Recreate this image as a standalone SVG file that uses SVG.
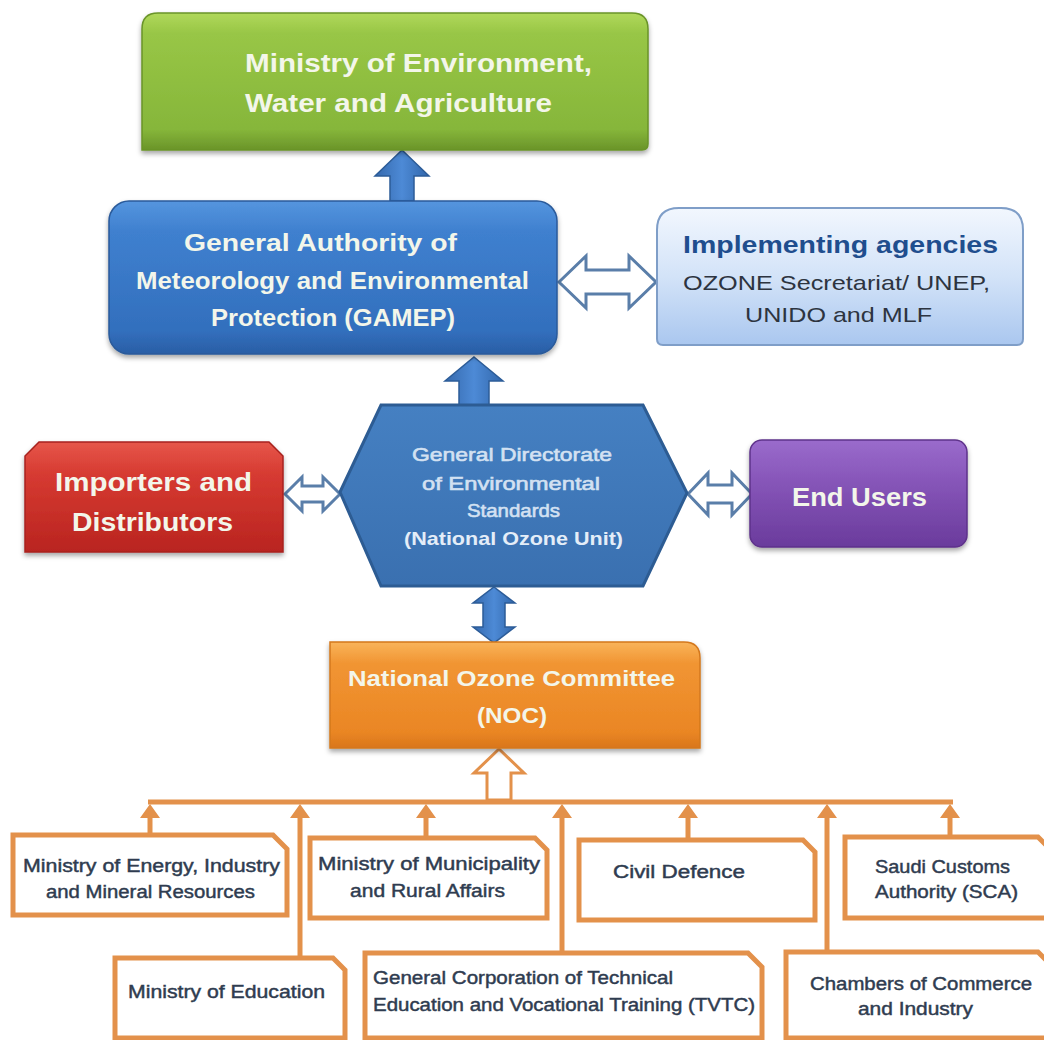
<svg xmlns="http://www.w3.org/2000/svg" width="1044" height="1040" viewBox="0 0 1044 1040">
<defs>
<linearGradient id="gGreen" x1="0" y1="0" x2="0" y2="1"><stop offset="0" stop-color="#b0d85a"/><stop offset="0.15" stop-color="#98c646"/><stop offset="0.85" stop-color="#86b63a"/><stop offset="1" stop-color="#6a9429"/></linearGradient>
<linearGradient id="gBlue" x1="0" y1="0" x2="0" y2="1"><stop offset="0" stop-color="#5595de"/><stop offset="0.2" stop-color="#3f80cf"/><stop offset="0.85" stop-color="#326fbd"/><stop offset="1" stop-color="#2a5ea5"/></linearGradient>
<linearGradient id="gLight" x1="0" y1="0" x2="0" y2="1"><stop offset="0" stop-color="#f2f7fe"/><stop offset="0.5" stop-color="#d3e3f8"/><stop offset="1" stop-color="#aac7ef"/></linearGradient>
<linearGradient id="gHex" x1="0" y1="0" x2="0" y2="1"><stop offset="0" stop-color="#4580c2"/><stop offset="1" stop-color="#3a70b0"/></linearGradient>
<linearGradient id="gRed" x1="0" y1="0" x2="0" y2="1"><stop offset="0" stop-color="#e6564a"/><stop offset="0.3" stop-color="#d63a31"/><stop offset="1" stop-color="#b92420"/></linearGradient>
<linearGradient id="gPurple" x1="0" y1="0" x2="0" y2="1"><stop offset="0" stop-color="#9a6bcc"/><stop offset="0.4" stop-color="#8655b8"/><stop offset="1" stop-color="#6a3b9c"/></linearGradient>
<linearGradient id="gOrange" x1="0" y1="0" x2="0" y2="1"><stop offset="0" stop-color="#f9b45a"/><stop offset="0.2" stop-color="#f19533"/><stop offset="0.85" stop-color="#ea8624"/><stop offset="1" stop-color="#d9761a"/></linearGradient>
<linearGradient id="gArrow" x1="0" y1="0" x2="1" y2="0"><stop offset="0" stop-color="#3569ad"/><stop offset="0.5" stop-color="#4d8ad6"/><stop offset="1" stop-color="#3267ab"/></linearGradient>
<filter id="sh" x="-10%" y="-10%" width="120%" height="130%"><feDropShadow dx="0" dy="3" stdDeviation="2.5" flood-color="#000" flood-opacity="0.35"/></filter>
</defs>
<style>
text{font-family:"Liberation Sans",Arial,sans-serif;}
.wb{font-weight:bold;fill:#f3f6ea;}
.bx{fill:#ffffff;stroke:#e3914b;stroke-width:5;}
.ln{stroke:#e3914b;stroke-width:5;fill:none;}
.ah{fill:#e3914b;}
.bt{font-size:18px;fill:#2f3c50;stroke:#2f3c50;stroke-width:0.45;}
.hx{font-size:19px;fill:#d3e1f2;stroke:#d3e1f2;stroke-width:0.6;}
.hol{fill:#ffffff;stroke:#5a7ea9;stroke-width:3;stroke-linejoin:miter;}
.ba{fill:url(#gArrow);stroke:#2c5c98;stroke-width:1.5;}
</style>
<rect width="1044" height="1040" fill="#ffffff"/>

<g id="connectors">
<path class="ba" d="M402 150 L429 176 L414 176 L414 201 L390 201 L390 176 L375 176 Z"/>
<path class="ba" d="M474 357 L503 381 L489 381 L489 405 L459 405 L459 381 L445 381 Z"/>
<path class="ba" d="M494 587 L515 603 L505 603 L505 627 L515 627 L494 643 L473 627 L483 627 L483 603 L473 603 Z"/>
<path class="hol" d="M559 282 L586 256 L586 270 L629 270 L629 256 L656 282 L629 308 L629 294 L586 294 L586 308 Z"/>
<path class="hol" d="M285 494 L302 477 L302 486 L323 486 L323 477 L340 494 L323 511 L323 502 L302 502 L302 511 Z"/>
<path class="hol" d="M688 494 L708 473 L708 485 L732 485 L732 473 L752 494 L732 515 L732 503 L708 503 L708 515 Z"/>
<path d="M499 749 L524 773 L511 773 L511 800 L487 800 L487 773 L474 773 Z" fill="#ffffff" stroke="#e3914b" stroke-width="3"/>
<path class="ln" d="M148 802 H953"/>
<path class="ln" d="M150 812 V835 M426 812 V838 M688 812 V840 M950 812 V837 M300 812 V958 M562 812 V953 M827 812 V952"/>
<path class="ah" d="M150 804 L160 818 L140 818 Z M426 804 L436 818 L416 818 Z M688 804 L698 818 L678 818 Z M950 804 L960 818 L940 818 Z M300 804 L310 818 L290 818 Z M562 804 L572 818 L552 818 Z M827 804 L837 818 L817 818 Z"/>
</g>

<g id="ministry-environment">
<path d="M158 13 H632 Q648 13 648 29 V144 Q648 150 642 150 H142 V29 Q142 13 158 13 Z" fill="url(#gGreen)" stroke="#6a9429" stroke-width="1.5" filter="url(#sh)"/>
<text class="wb" x="245" y="72" font-size="26" textLength="347" lengthAdjust="spacingAndGlyphs">Ministry of Environment,</text>
<text class="wb" x="245" y="112" font-size="26" textLength="307" lengthAdjust="spacingAndGlyphs">Water and Agriculture</text>
</g>

<g id="gamep">
<rect x="109" y="201" width="448" height="153" rx="20" fill="url(#gBlue)" stroke="#2a5a9a" stroke-width="1.5" filter="url(#sh)"/>
<text class="wb" x="184" y="251" font-size="23" fill="#eef3fb" textLength="273" lengthAdjust="spacingAndGlyphs">General Authority of</text>
<text class="wb" x="136" y="289" font-size="23" textLength="393" lengthAdjust="spacingAndGlyphs">Meteorology and Environmental</text>
<text class="wb" x="211" y="326" font-size="23" textLength="244" lengthAdjust="spacingAndGlyphs">Protection (GAMEP)</text>
</g>

<g id="implementing-agencies">
<path d="M679 208 H1001 Q1023 208 1023 230 V339 Q1023 345 1017 345 H663 Q657 345 657 339 V230 Q657 208 679 208 Z" fill="url(#gLight)" stroke="#7f9ec8" stroke-width="2"/>
<text x="683" y="253" font-size="24" font-weight="bold" fill="#1f4e8e" textLength="315" lengthAdjust="spacingAndGlyphs">Implementing agencies</text>
<text x="683" y="290" font-size="21" fill="#2d3440" textLength="307" lengthAdjust="spacingAndGlyphs">OZONE Secretariat/ UNEP,</text>
<text x="745" y="322" font-size="21" fill="#2d3440" textLength="187" lengthAdjust="spacingAndGlyphs">UNIDO and MLF</text>
</g>

<g id="importers">
<path d="M39 442 H269 L283 456 V552 H25 V456 Z" fill="url(#gRed)" stroke="#a8231f" stroke-width="1.5" filter="url(#sh)"/>
<text class="wb" x="55" y="491" font-size="25" fill="#f8ece6" textLength="197" lengthAdjust="spacingAndGlyphs">Importers and</text>
<text class="wb" x="72" y="531" font-size="25" fill="#f8ece6" textLength="161" lengthAdjust="spacingAndGlyphs">Distributors</text>
</g>

<g id="national-ozone-unit">
<path d="M340 492 L381 405 L643 405 L687 493 L643 586 L381 586 Z" fill="url(#gHex)" stroke="#2d5c93" stroke-width="3"/>
<text class="hx" x="412" y="461" textLength="200" lengthAdjust="spacingAndGlyphs">General Directorate</text>
<text class="hx" x="422" y="490" textLength="178" lengthAdjust="spacingAndGlyphs">of Environmental</text>
<text class="hx" x="467" y="517" textLength="93" lengthAdjust="spacingAndGlyphs">Standards</text>
<text x="404" y="545" font-size="19" fill="#e4edf8" font-weight="bold" textLength="219" lengthAdjust="spacingAndGlyphs">(National Ozone Unit)</text>
</g>

<g id="end-users">
<rect x="750" y="440" width="217" height="107" rx="12" fill="url(#gPurple)" stroke="#5e328a" stroke-width="1.5" filter="url(#sh)"/>
<text class="wb" x="792" y="506" font-size="25" fill="#f6eefb" textLength="135" lengthAdjust="spacingAndGlyphs">End Users</text>
</g>

<g id="noc">
<path d="M330 642 H684 Q700 642 700 658 V748 H330 Z" fill="url(#gOrange)" stroke="#d4781e" stroke-width="1.5" filter="url(#sh)"/>
<text class="wb" x="348" y="686" font-size="22" fill="#fcebd0" textLength="327" lengthAdjust="spacingAndGlyphs">National Ozone Committee</text>
<text class="wb" x="477" y="723" font-size="22" fill="#fcebd0" textLength="70" lengthAdjust="spacingAndGlyphs">(NOC)</text>
</g>

<g id="ministry-energy">
<path class="bx" d="M13 835 H273 L287 849 V915 H13 Z"/>
<text class="bt" x="23" y="872" textLength="257" lengthAdjust="spacingAndGlyphs">Ministry of Energy, Industry</text>
<text class="bt" x="46" y="898" textLength="209" lengthAdjust="spacingAndGlyphs">and Mineral Resources</text>
</g>
<g id="ministry-municipality">
<path class="bx" d="M310 838 H535 L547 850 V918 H310 Z"/>
<text class="bt" x="318" y="870" textLength="222" lengthAdjust="spacingAndGlyphs">Ministry of Municipality</text>
<text class="bt" x="350" y="897" textLength="155" lengthAdjust="spacingAndGlyphs">and Rural Affairs</text>
</g>
<g id="civil-defence">
<path class="bx" d="M579 840 H803 L815 852 V920 H579 Z"/>
<text class="bt" x="613" y="878" textLength="132" lengthAdjust="spacingAndGlyphs">Civil Defence</text>
</g>
<g id="saudi-customs">
<path class="bx" d="M845 837 H1038 L1052 851 V918 H845 Z"/>
<text class="bt" x="875" y="873" textLength="135" lengthAdjust="spacingAndGlyphs">Saudi Customs</text>
<text class="bt" x="875" y="898" textLength="143" lengthAdjust="spacingAndGlyphs">Authority (SCA)</text>
</g>
<g id="ministry-education">
<path class="bx" d="M115 958 H333 L345 970 V1038 H115 Z"/>
<text class="bt" x="128" y="998" textLength="197" lengthAdjust="spacingAndGlyphs">Ministry of Education</text>
</g>
<g id="tvtc">
<path class="bx" d="M365 953 H748 L762 967 V1038 H365 Z"/>
<text class="bt" x="373" y="984" textLength="300" lengthAdjust="spacingAndGlyphs">General Corporation of Technical</text>
<text class="bt" x="373" y="1011" textLength="382" lengthAdjust="spacingAndGlyphs">Education and Vocational Training (TVTC)</text>
</g>
<g id="chambers">
<path class="bx" d="M786 952 H1038 L1052 966 V1038 H786 Z"/>
<text class="bt" x="810" y="990" textLength="222" lengthAdjust="spacingAndGlyphs">Chambers of Commerce</text>
<text class="bt" x="858" y="1015" textLength="115" lengthAdjust="spacingAndGlyphs">and Industry</text>
</g>
</svg>
